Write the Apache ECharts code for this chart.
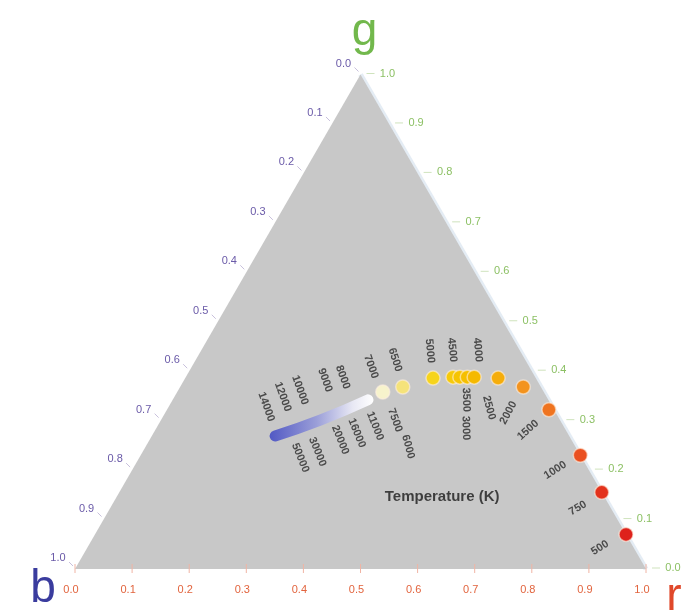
<!DOCTYPE html>
<html><head><meta charset="utf-8">
<script src="https://cdn.jsdelivr.net/npm/echarts@6/dist/echarts.min.js"></script>
<style>html,body{margin:0;padding:0;background:#fff;}#c{width:699px;height:613px;}</style>
</head><body><div id="c"></div>
<script>
// ---- data ----
const vertexNames = ['b', 'r', 'g'];
const vertexR = [0, 1, 0];
const vertexG = [0, 0, 1];
const tickValues = [0, 0.1, 0.2, 0.3, 0.4, 0.5, 0.6, 0.7, 0.8, 0.9, 1.0];
const tickLabels = ['0.0','0.1','0.2','0.3','0.4','0.5','0.6','0.7','0.8','0.9','1.0'];

// high-temperature part of the locus (blue -> white band)
const bandR = [0.216, 0.279, 0.342];
const bandG = [0.269, 0.301, 0.342];

// locus dots (r, g chromaticity)
const dotR = [0.360, 0.390, 0.434, 0.468, 0.480, 0.493, 0.505, 0.548, 0.601, 0.669, 0.770, 0.845, 0.930];
const dotG = [0.358, 0.368, 0.386, 0.388, 0.388, 0.388, 0.388, 0.386, 0.368, 0.322, 0.230, 0.155, 0.070];
const dotColors = ['#f7f3cc','#f5e37a','#f6d41c','#f6ca0a','#f6c402','#f5bf00','#f5b900','#f5ad0c','#f3931e','#ef7420','#ea5020','#e3321c','#de221c'];

// temperature labels (K) and their anchor chromaticities
const tempLabels = ['14000','12000','10000','9000','8000','7000','6500',
                    '5000','4500','4000',
                    '50000','30000','20000','16000','11000','7500','6000',
                    '3500','3000','2500','2000','1500','1000','750','500'];
const tempR = [0.171,0.190,0.213,0.247,0.275,0.314,0.349,
               0.401,0.439,0.484,
               0.282,0.306,0.334,0.356,0.381,0.410,0.460,
               0.514,0.542,0.562,0.601,0.653,0.741,0.819,0.898];
const tempG = [0.328,0.348,0.362,0.382,0.388,0.409,0.423,
               0.441,0.443,0.443,
               0.225,0.237,0.261,0.275,0.289,0.301,0.247,
               0.342,0.285,0.326,0.316,0.281,0.200,0.123,0.043];
const tempRotation = [-70,-70,-70,-70,-70,-70,-72,
                      -85,-85,-85,
                      -68,-68,-68,-68,-68,-70,-75,
                      -88,-88,-75,62,42,32,30,32];
const axisTitle = 'Temperature (K)';
const axisTitleR = 0.570, axisTitleG = 0.146;

// ---- helpers ----
const toXY = (r, g) => [r + g / 2, g];
const chart = echarts.init(document.getElementById('c'), null, {renderer: 'canvas'});
const FONT = '"Liberation Sans", Arial, sans-serif';

const option = {
  animation: false,
  backgroundColor: '#ffffff',
  grid: {left: 75, top: 74.5, width: 571, height: 494.5},
  xAxis: {type: 'value', min: 0, max: 1, show: false},
  yAxis: {type: 'value', min: 0, max: 1, show: false},
  series: [
    { // triangle
      type: 'custom', silent: true, z: 1, data: [0],
      renderItem: (p, api) => ({
        type: 'polygon',
        shape: {points: vertexR.map((r, i) => api.coord(toXY(r, vertexG[i])))},
        style: {fill: '#c8c8c8'}
      })
    },
    { // right-edge glow
      type: 'custom', silent: true, z: 0, data: [0],
      renderItem: (p, api) => ({
        type: 'polyline',
        shape: {points: [api.coord(toXY(vertexR[2], vertexG[2])), api.coord(toXY(vertexR[1], vertexG[1]))]},
        style: {stroke: '#e4ecf4', lineWidth: 5, fill: null}
      })
    },
    { // ticks and tick labels for the three axes
      type: 'custom', silent: true, z: 3,
      data: tickValues.map((v, i) => i),
      renderItem: (p, api) => {
        const i = p.dataIndex, v = tickValues[i], t = tickLabels[i];
        const pb = api.coord(toXY(0, 1 - v));   // b axis (left edge)
        const pg = api.coord(toXY(1 - v, v));   // g axis (right edge)
        const pr = api.coord(toXY(v, 0));       // r axis (bottom edge)
        const txt = (x, y, s, c) => ({type: 'text', style: {x, y, text: s, fill: c, font: '11px ' + FONT, align: 'center', verticalAlign: 'middle'}});
        const ln = (x1, y1, x2, y2, c) => ({type: 'line', shape: {x1, y1, x2, y2}, style: {stroke: c, lineWidth: 1}});
        return {type: 'group', children: [
          ln(pb[0] - 2, pb[1] - 3, pb[0] - 6, pb[1] - 7, '#c8c0dc'),
          txt(pb[0] - 17, pb[1] - 11, t, '#6a5aa8'),
          ln(pg[0] + 6, pg[1] - 1, pg[0] + 14, pg[1] - 1, '#cfe3bd'),
          txt(pg[0] + 27, pg[1] - 1, t, '#8cc064'),
          ln(pr[0], pr[1] - 5, pr[0], pr[1] + 4, '#f0b4a4'),
          txt(pr[0] - 4, pr[1] + 21, t, '#e2643e')
        ]};
      }
    },
    { // vertex names
      type: 'custom', silent: true, z: 3,
      data: vertexNames.map((v, i) => i),
      renderItem: (p, api) => {
        const i = p.dataIndex;
        const pt = api.coord(toXY(vertexR[i], vertexG[i]));
        const off = [[-32, 20], [28, 28], [4, -42]][i];
        const col = ['#3a3c9e', '#e0482a', '#72b84c'][i];
        return {type: 'text', style: {x: pt[0] + off[0], y: pt[1] + off[1], text: vertexNames[i], fill: col, font: '46px ' + FONT, align: 'center', verticalAlign: 'middle'}};
      }
    },
    { // blue-white band
      type: 'line', z: 4, silent: true, symbol: 'none', smooth: true,
      data: bandR.map((r, i) => toXY(r, bandG[i])),
      lineStyle: {width: 11, cap: 'round', opacity: 1,
        color: {type: 'linear', x: 0, y: 0, x2: 1, y2: 0, colorStops: [
          {offset: 0, color: '#5259c4'}, {offset: 0.45, color: '#9a9ed8'}, {offset: 0.8, color: '#e8e8f4'}, {offset: 1, color: '#ffffff'}]}}
    },
    { // dots
      type: 'scatter', z: 5, silent: true, symbolSize: 14,
      data: dotR.map((r, i) => ({value: toXY(r, dotG[i]), itemStyle: {color: dotColors[i], opacity: 1, borderColor: 'rgba(255,240,225,0.6)', borderWidth: 1.5}}))
    },
    { // temperature labels
      type: 'scatter', z: 6, silent: true, symbolSize: 0,
      data: tempR.map((r, i) => ({value: toXY(r, tempG[i]), name: tempLabels[i],
        label: {rotate: tempRotation[i]}})),
      label: {show: true, position: 'inside', formatter: p => p.name, color: '#2a2a2a', fontSize: 11, fontFamily: FONT, fontWeight: 'bold'}
    },
    { // axis title
      type: 'scatter', z: 6, silent: true, symbolSize: 0,
      data: [{value: toXY(axisTitleR, axisTitleG), name: axisTitle}],
      label: {show: true, position: 'inside', formatter: p => p.name, color: '#1a1a1a', fontSize: 15, fontFamily: FONT, fontWeight: 'bold'}
    }
  ]
};
chart.setOption(option);
</script>
</body></html>
